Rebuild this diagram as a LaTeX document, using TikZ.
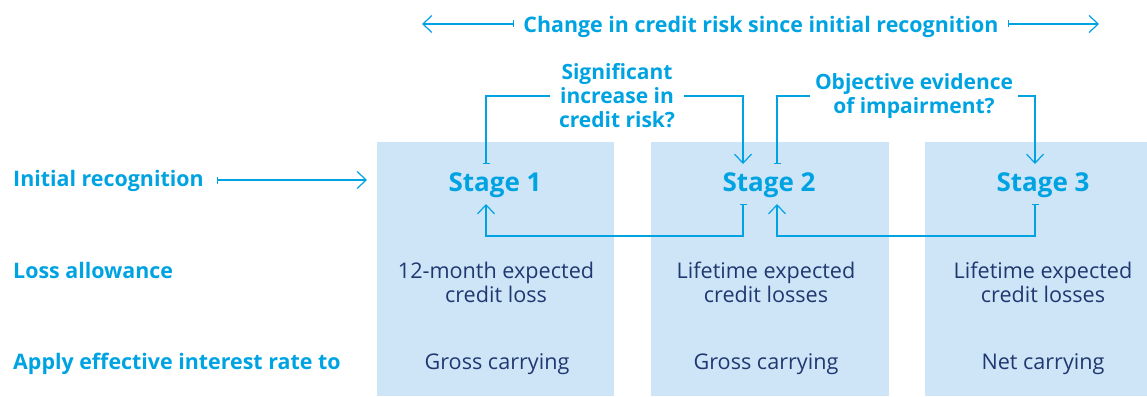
\documentclass[tikz,border=0pt]{standalone}
\usepackage{fontspec}
\setmainfont{Open Sans}
\usetikzlibrary{arrows.meta}
\definecolor{ifrscyan}{RGB}{0,163,226}
\definecolor{ifrsfill}{RGB}{206,229,247}
\definecolor{ifrsnavy}{RGB}{32,56,112}
\tikzset{
  stagebox/.style={fill=ifrsfill,minimum width=237pt,minimum height=254pt,anchor=north west,inner sep=0pt},
  rowlabel/.style={text=ifrscyan,font=\bfseries\fontsize{21.4}{24}\selectfont,anchor=base west,inner sep=0pt},
  question/.style={text=ifrscyan,font=\bfseries\fontsize{21}{24}\selectfont,align=center,inner ysep=0pt},
  stagename/.style={text=ifrscyan,font=\bfseries\fontsize{26}{30}\selectfont,anchor=base},
  boxtext/.style={text=ifrsnavy,font=\fontsize{21.6}{24}\selectfont,align=center,anchor=base},
  link/.style={ifrscyan,line width=1.2pt},
  barto/.style={link,{Bar[width=7pt,line width=1.2pt]}-{Straight Barb[length=9pt,width=17pt,line width=1.2pt]}},
  tobar/.style={link,-{Straight Barb[length=9pt,width=17pt,line width=1.2pt]}}
}
\begin{document}
\begin{tikzpicture}[x=1pt,y=-1pt]
        \useasboundingbox (0,0) rectangle (1147,396);
        %% Boxes
        \node[stagebox] (box1) at (377,142) {};
        \node[stagebox,minimum width=238pt] (box2) at (651,142) {};
        \node[stagebox,minimum width=222pt] (box3) at (925,142) {};
        %% Header
        \node[text=ifrscyan,font=\bfseries\fontsize{21.4}{26}\selectfont,anchor=base,inner xsep=9pt] (title) at (761,33) {Change in credit risk since initial recognition};
        \coordinate (tleft) at (422,24);
        \coordinate (tright) at (1099,24);
        \draw[barto] (title.west |- tleft) -- (tleft);
        \draw[barto] (title.east |- tright) -- (tright);
        %% Row labels
        \node[rowlabel] (init) at (13,186) {Initial recognition};
        \node[rowlabel] (loss) at (13,278) {Loss allowance};
        \node[rowlabel] (eir) at (13,369) {Apply effective interest rate to};
        \coordinate (initend) at (367,180);
        \draw[barto] ([xshift=13pt]init.east |- initend) -- (initend);
        %% Stages
        \node[stagename] (s1) at (495,191) {Stage 1};
        \node[stagename] (s2) at (769,191) {Stage 2};
        \node[stagename] (s3) at (1043,191) {Stage 3};
        \node[boxtext] (l1) at (496,302) {12-month expected\\credit loss};
        \node[boxtext] (l2) at (766,302) {Lifetime expected\\credit losses};
        \node[boxtext] (l3) at (1043,302) {Lifetime expected\\credit losses};
        \node[boxtext] (g1) at (497,369) {Gross carrying};
        \node[boxtext] (g2) at (766,369) {Gross carrying};
        \node[boxtext] (g3) at (1043,369) {Net carrying};
        %% Questions
        \node[question,inner xsep=9pt] (sig) at (617,96) {Significant\\increase in\\credit risk?};
        \node[question,inner xsep=5pt] (obj) at (914,96) {Objective evidence\\of impairment?};
        \coordinate (s1top) at (486,164);
        \coordinate (s2top) at (743,164);
        \coordinate (s2mid) at (777,164);
        \coordinate (s3top) at (1035,164);
        \draw[link,{Bar[width=7pt,line width=1.2pt]}-] (s1top) |- (sig.west);
        \draw[tobar] (sig.east) -| (s2top);
        \draw[link,{Bar[width=7pt,line width=1.2pt]}-] (s2mid) |- (obj.west);
        \draw[tobar] (obj.east) -| (s3top);
        %% Back arrows
        \coordinate (s1bot) at (486,204);
        \coordinate (s2bot) at (743,204);
        \coordinate (s2back) at (777,204);
        \coordinate (s3bot) at (1035,204);
        \draw[barto] (s2bot) -- ++(0,32) -| (s1bot);
        \draw[barto] (s3bot) -- ++(0,32) -| (s2back);
\end{tikzpicture}
\end{document}
